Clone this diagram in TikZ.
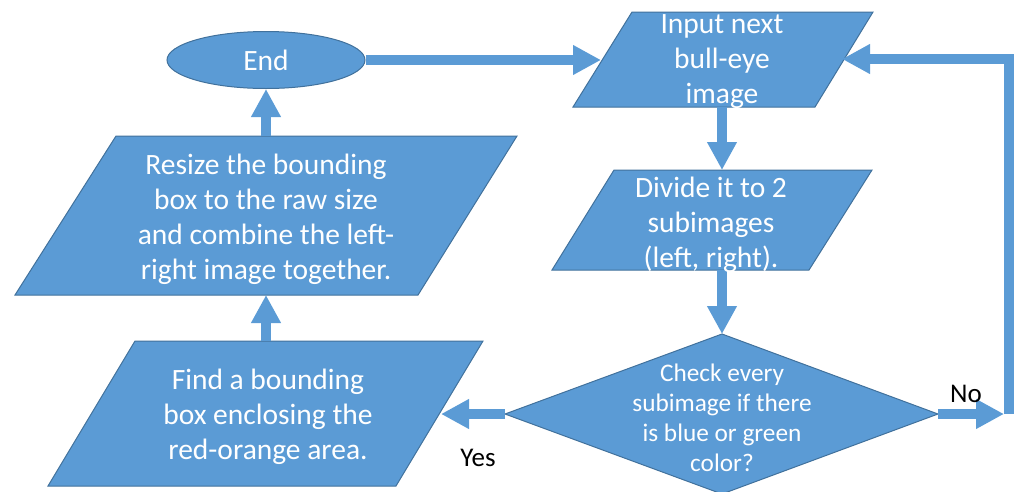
\documentclass[tikz,border=0pt]{standalone}
\usepackage{fontspec}
\setmainfont{Carlito}
\usetikzlibrary{arrows.meta,shapes.geometric}
\definecolor{boxblue}{HTML}{5B9BD5}
\definecolor{boxedge}{HTML}{41719C}
\begin{document}
\begin{tikzpicture}[x=1pt,y=-1pt,
  shapebox/.style={fill=boxblue,draw=boxedge,line width=1pt,line join=miter},
  txt/.style={text=white,align=center,font=\fontsize{29.5}{35}\selectfont,inner sep=0pt},
  dtxt/.style={text=white,align=center,font=\fontsize{25.3}{30}\selectfont,inner sep=0pt},
  lbl/.style={text=black,font=\fontsize{27}{32}\selectfont,inner sep=0pt},
  flow/.style={draw=boxblue,line width=10pt,line join=miter,-{Triangle[width=28pt,length=28pt]}},
  plainline/.style={draw=boxblue,line width=10pt,line join=miter}]
\useasboundingbox (0,0) rectangle (1014,491);

% connector end points
\coordinate (inL) at (601,60);
\coordinate (inR) at (842,59);
\coordinate (inB) at (722,107);
\coordinate (dvT) at (722,170);
\coordinate (dvB) at (722,270);
\coordinate (dmT) at (722,334);
\coordinate (dmL) at (505,414);
\coordinate (dmR) at (938,414);
\coordinate (fdR) at (441,414);
\coordinate (fdT) at (266,341);
\coordinate (rsB) at (266,295);
\coordinate (rsT) at (266,136);
\coordinate (noEnd) at (1004,414);
\coordinate (loopB) at (1009,414);
\coordinate (loopT) at (1009,59);

% shapes
\path[shapebox] (632,12) -- (873,12) -- (815,107) -- (573,107) -- cycle;
\path[shapebox] (614,170) -- (872,170) -- (809,270) -- (552,270) -- cycle;
\path[shapebox] (116,136) -- (517,136) -- (418,295) -- (15,295) -- cycle;
\path[shapebox] (135,341) -- (483,341) -- (396,486) -- (48,486) -- cycle;
\path[shapebox] (722,334) -- (938,414) -- (722,494) -- (505,414) -- cycle;
\node[shapebox,ellipse,minimum width=198pt,minimum height=57pt,inner sep=0pt,
      text=white,font=\fontsize{29.5}{35}\selectfont] (end) at (266,60) {End};

% connectors
\draw[flow] (end.east) -- (inL);
\draw[flow] (inB) -- (dvT);
\draw[flow] (dvB) -- (dmT);
\draw[flow] (dmL) -- (fdR);
\draw[flow] (dmR) -- (noEnd);
\draw[flow] (loopB) -- (loopT) -- (inR);
\draw[flow] (fdT) -- (rsB);
\draw[flow] (rsT) -- (end.south);

% texts
\node[txt] (inputtxt) at (722,62) {Input next\\bull-eye\\image};
\node[txt] (dividetxt) at (711,225) {Divide it to 2\\subimages\\(left, right).};
\node[txt] (resizetxt) at (266,219) {Resize the bounding\\box to the raw size\\and combine the left-\\right image together.};
\node[txt] (findtxt) at (268,417) {Find a bounding\\box enclosing the\\red-orange area.};
\node[dtxt] (checktxt) at (722,418) {Check every\\subimage if there\\is blue or green\\color?};
\node[lbl] (yes) at (478,458) {Yes};
\node[lbl] (no) at (966,394) {No};
\end{tikzpicture}
\end{document}
